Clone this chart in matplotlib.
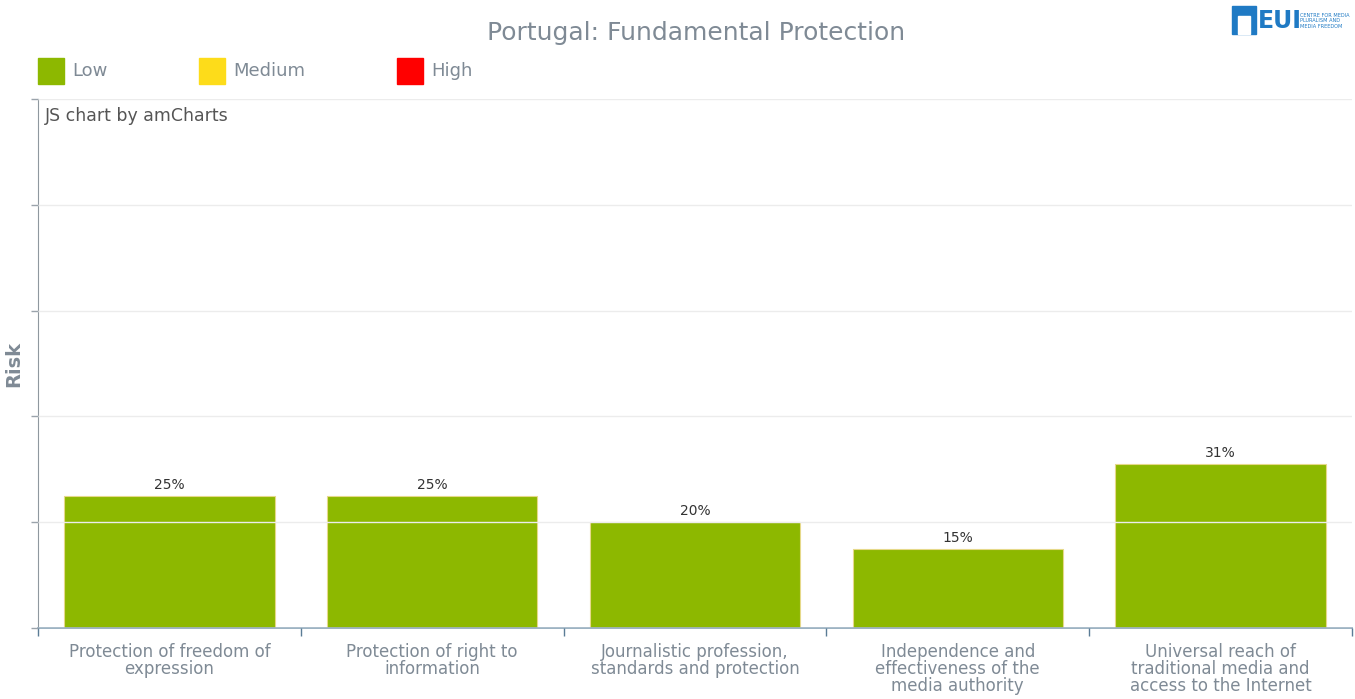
import matplotlib
matplotlib.use('Agg')
import matplotlib.pyplot as plt
from matplotlib.patches import Rectangle

# categories and risk scores (%)
categorias = ['Protection of freedom of\nexpression',
              'Protection of right to\ninformation',
              'Journalistic profession,\nstandards and protection',
              'Independence and\neffectiveness of the\nmedia authority',
              'Universal reach of\ntraditional media and\naccess to the Internet']
valores = [25, 25, 20, 15, 31]
niveles = ['Low', 'Medium', 'High']
colores_nivel = ['#8db800', '#fddc1a', '#ff0000']

gris = '#7f8a95'
W, H = 1355, 699

fig = plt.figure(figsize=(W / 100, H / 100), dpi=100)
fig.patch.set_facecolor('white')

def px(x, y):
    return x / W, 1 - y / H

# area del grafico
x0, x1, ytop, ybot = 38, 1352, 99, 628
ax = fig.add_axes([x0 / W, 1 - ybot / H, (x1 - x0) / W, (ybot - ytop) / H])

pos = list(range(len(categorias)))
ax.bar(pos, valores, width=0.8, color=colores_nivel[0], edgecolor='#e6d98a',
       linewidth=0.8, zorder=2)
for p, v in zip(pos, valores):
    ax.text(p, v + 0.7, f'{v}%', ha='center', va='bottom', fontsize=10,
            color='#333333', zorder=3)

ax.set_xlim(-0.5, len(categorias) - 0.5)
ax.set_ylim(0, 100)
ax.set_yticks([0, 20, 40, 60, 80, 100])
ax.set_yticklabels([])
ax.yaxis.grid(True, color='#ececec', linewidth=1, zorder=3)
ax.set_axisbelow(False)
ax.tick_params(axis='y', length=5, width=1, color='#9aa3ab', direction='out')

ax.set_xticks([p - 0.5 for p in pos] + [len(pos) - 0.5])
ax.set_xticklabels([])
ax.set_xticks(pos, minor=True)
ax.set_xticklabels(categorias, minor=True, fontsize=12, color=gris,
                   linespacing=0.92)
ax.tick_params(axis='x', which='major', length=6, width=1, color='#5a7c96',
               direction='out')
ax.tick_params(axis='x', which='minor', length=0, pad=11)

for s in ['top', 'right']:
    ax.spines[s].set_visible(False)
ax.spines['left'].set_color('#8f989f')
ax.spines['bottom'].set_color('#8aa4b8')
ax.spines['bottom'].set_linewidth(1.2)

ax.text(0.005, 0.985, 'JS chart by amCharts', transform=ax.transAxes,
        ha='left', va='top', fontsize=12.5, color='#555555')

# titulo y etiqueta del eje
fig.text(*px(696, 33), 'Portugal: Fundamental Protection', ha='center',
         va='center', fontsize=18, color=gris)
fig.text(*px(14, 364), 'Risk', rotation=90, ha='center', va='center',
         fontsize=14, fontweight='bold', color=gris)

# leyenda
for i, (nv, c) in enumerate(zip(niveles, colores_nivel)):
    lx = [38, 199, 397][i]
    fig.patches.append(Rectangle(px(lx, 84), 26 / W, 26 / H, color=c,
                                 transform=fig.transFigure, figure=fig))
    fig.text(*px(lx + 34, 71), nv, ha='left', va='center', fontsize=13,
             color=gris)

# logo EUI
azul = '#1f7ac4'
fig.patches.append(Rectangle(px(1232, 34), 24 / W, 28 / H, color=azul,
                             transform=fig.transFigure, figure=fig))
fig.patches.append(Rectangle(px(1238, 34), 12 / W, 18 / H, color='white',
                             transform=fig.transFigure, figure=fig))
fig.text(*px(1258, 21), 'EUI', ha='left', va='center', fontsize=17,
         fontweight='bold', color=azul)
fig.text(*px(1300, 21), 'CENTRE FOR MEDIA\nPLURALISM AND\nMEDIA FREEDOM',
         ha='left', va='center', fontsize=3.6, color=azul, linespacing=1.05)

fig.savefig('out.png', dpi=100)
